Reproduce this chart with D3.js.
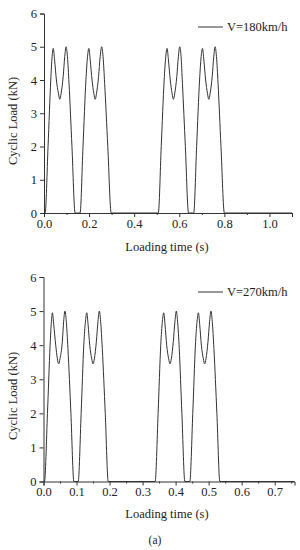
<!DOCTYPE html>
<html lang="en">
	<head>
		<meta charset="utf-8">
		<title>Cyclic load</title>
		<script type="text/javascript" src="https://cdnjs.cloudflare.com/ajax/libs/d3/7.8.5/d3.min.js"></script>
		<style type="text/css">
			body { margin: 0; background: #fff; }
			text { font-family: "Liberation Serif", "DejaVu Serif", serif; fill: #222; }
		</style>
	</head>
	<body>
		<script type="text/javascript">

			var w = 300;
			var h = 550;

			// V=180km/h
			var time180 = [0.000, 0.005, 0.018, 0.030, 0.036, 0.041, 0.047, 0.055, 0.064, 0.070, 0.076, 0.085, 0.092, 0.098, 0.104, 0.111, 0.124, 0.138,
				0.160, 0.173, 0.186, 0.193, 0.199, 0.205, 0.213, 0.221, 0.227, 0.233, 0.242, 0.249, 0.256, 0.262, 0.269, 0.283, 0.298,
				0.507, 0.520, 0.533, 0.540, 0.546, 0.552, 0.560, 0.568, 0.574, 0.580, 0.589, 0.596, 0.602, 0.608, 0.614, 0.627, 0.641,
				0.664, 0.677, 0.690, 0.697, 0.703, 0.709, 0.717, 0.725, 0.731, 0.737, 0.746, 0.753, 0.759, 0.765, 0.772, 0.785, 0.800, 1.100]
			var load180 = [0, 0, 2.0, 4.0, 4.7, 4.95, 4.6, 4.0, 3.6, 3.42, 3.6, 4.1, 4.7, 5.0, 4.7, 3.9, 2.0, 0,
				0, 2.0, 4.0, 4.7, 4.95, 4.6, 4.0, 3.6, 3.42, 3.6, 4.1, 4.7, 5.0, 4.7, 3.9, 2.0, 0,
				0, 2.0, 4.0, 4.7, 4.95, 4.6, 4.0, 3.6, 3.42, 3.6, 4.1, 4.7, 5.0, 4.7, 3.9, 2.0, 0,
				0, 2.0, 4.0, 4.7, 4.95, 4.6, 4.0, 3.6, 3.42, 3.6, 4.1, 4.7, 5.0, 4.7, 3.9, 2.0, 0, 0]

			// V=270km/h
			var time270 = [0.000, 0.003, 0.012, 0.020, 0.024, 0.027, 0.031, 0.037, 0.042, 0.046, 0.050, 0.057, 0.061, 0.065, 0.069, 0.074, 0.083, 0.092,
				0.105, 0.114, 0.122, 0.127, 0.131, 0.135, 0.140, 0.146, 0.150, 0.154, 0.160, 0.165, 0.169, 0.173, 0.178, 0.187, 0.196,
				0.338, 0.347, 0.355, 0.360, 0.364, 0.368, 0.373, 0.379, 0.383, 0.387, 0.393, 0.398, 0.402, 0.406, 0.411, 0.419, 0.428,
				0.443, 0.452, 0.460, 0.465, 0.469, 0.473, 0.478, 0.484, 0.488, 0.492, 0.498, 0.503, 0.507, 0.511, 0.516, 0.525, 0.534, 0.760]
			var load270 = [0, 0, 2.0, 4.0, 4.7, 4.95, 4.6, 4.0, 3.6, 3.45, 3.6, 4.1, 4.7, 5.0, 4.7, 3.9, 2.0, 0,
				0, 2.0, 4.0, 4.7, 4.95, 4.6, 4.0, 3.6, 3.45, 3.6, 4.1, 4.7, 5.0, 4.7, 3.9, 2.0, 0,
				0, 2.0, 4.0, 4.7, 4.95, 4.6, 4.0, 3.6, 3.45, 3.6, 4.1, 4.7, 5.0, 4.7, 3.9, 2.0, 0,
				0, 2.0, 4.0, 4.7, 4.95, 4.6, 4.0, 3.6, 3.45, 3.6, 4.1, 4.7, 5.0, 4.7, 3.9, 2.0, 0, 0]

			var yTicks = [0, 1, 2, 3, 4, 5, 6]
			var xTicks180 = [0, 0.2, 0.4, 0.6, 0.8, 1.0]
			var xTicks270 = [0, 0.1, 0.2, 0.3, 0.4, 0.5, 0.6, 0.7]
			var xMinor180 = [0.1, 0.3, 0.5, 0.7, 0.9, 1.1]
			var xMinor270 = [0.05, 0.15, 0.25, 0.35, 0.45, 0.55, 0.65, 0.75]

			var panels = [
				{ t: time180, v: load180, label: 'V=180km/h', xMax: 1.1, xTicks: xTicks180, xMinor: xMinor180,
				  left: 44, right: 292, top: 13.5, bottom: 213, legY: 27, yTitle: 121, xTitle: 251 },
				{ t: time270, v: load270, label: 'V=270km/h', xMax: 0.76, xTicks: xTicks270, xMinor: xMinor270,
				  left: 43.5, right: 294.5, top: 277, bottom: 481.5, legY: 292, yTitle: 396, xTitle: 518 }
			]

			var svg = d3.select('body')
							.append('svg')
							.attr('width', w)
							.attr('height', h)

			panels.forEach(function(p) {
				var xScale = d3.scaleLinear()
								.domain([0, p.xMax])
								.range([p.left, p.right])
				var yScale = d3.scaleLinear()
								.domain([0, 6])
								.range([p.bottom, p.top])

				var g = svg.append('g')

				// minor x ticks
				g.append('g')
					.attr('transform', `translate(0,${p.bottom})`)
					.call(d3.axisBottom(xScale).tickValues(p.xMinor).tickSize(2).tickFormat(''))
					.call(a => a.select('.domain').remove())
					.selectAll('line').attr('stroke', '#333')

				var xAxis = g.append('g')
					.attr('transform', `translate(0,${p.bottom})`)
					.call(d3.axisBottom(xScale).tickValues(p.xTicks).tickSize(4).tickPadding(2).tickFormat(d3.format('.1f')))
				xAxis.select('.domain').attr('stroke', '#333')
				xAxis.selectAll('line').attr('stroke', '#333')
				xAxis.selectAll('text').attr('font-size', 12.5).attr('font-family', 'Liberation Serif').attr('fill', '#222')

				var yAxis = g.append('g')
					.attr('transform', `translate(${p.left},0)`)
					.call(d3.axisLeft(yScale).tickValues(yTicks).tickSize(4).tickPadding(3).tickFormat(d3.format('d')))
				yAxis.select('.domain').attr('stroke', '#333')
				yAxis.selectAll('line').attr('stroke', '#333')
				yAxis.selectAll('text').attr('font-size', 12.5).attr('font-family', 'Liberation Serif').attr('fill', '#222')

				var line = d3.line()
								.x((d, i) => xScale(p.t[i]))
								.y(d => yScale(d))
								.curve(d3.curveMonotoneX)

				g.append('path')
					.datum(p.v)
					.attr('d', line)
					.attr('fill', 'none')
					.attr('stroke', '#333')
					.attr('stroke-width', 1)

				// legend
				g.append('line')
					.attr('x1', 198).attr('x2', 223)
					.attr('y1', p.legY).attr('y2', p.legY)
					.attr('stroke', '#333')
				g.append('text')
					.attr('x', 227).attr('y', p.legY + 4)
					.attr('font-size', 12.5)
					.text(p.label)

				// axis titles
				g.append('text')
					.attr('transform', `translate(17,${p.yTitle}) rotate(-90)`)
					.attr('text-anchor', 'middle')
					.attr('font-size', 12.5)
					.text('Cyclic Load (kN)')
				g.append('text')
					.attr('x', 167).attr('y', p.xTitle)
					.attr('text-anchor', 'middle')
					.attr('font-size', 12.5)
					.text('Loading time (s)')
			})

			svg.append('text')
				.attr('x', 155).attr('y', 544)
				.attr('text-anchor', 'middle')
				.attr('font-size', 11.5)
				.text('(a)')
		</script>
	</body>
</html>
